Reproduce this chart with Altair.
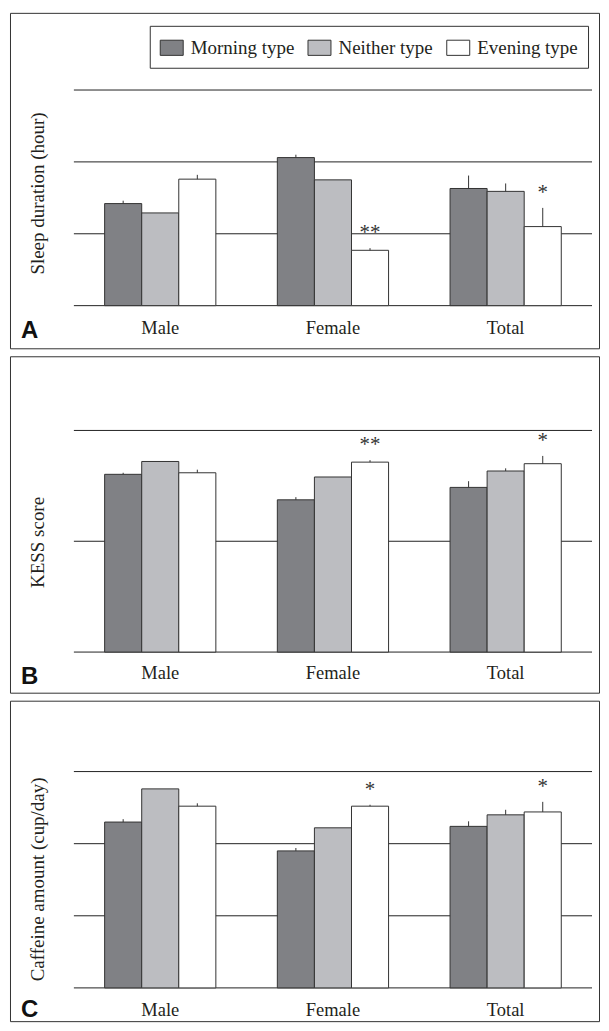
import altair as alt
import pandas as pd

categories = ["Male", "Female", "Total"]
types = ["Morning type", "Neither type", "Evening type"]
type_colors = ["#808185", "#bcbdc1", "#ffffff"]

# Panel A: sleep duration (hour)
sleep_morning = [6.42, 7.06, 6.63]
sleep_neither = [6.29, 6.75, 6.59]
sleep_evening = [6.76, 5.77, 6.10]
sleep_morning_err = [0.04, 0.04, 0.18]
sleep_neither_err = [0.0, 0.0, 0.11]
sleep_evening_err = [0.06, 0.03, 0.26]
sleep_evening_sig = ["", "**", "*"]
sleep_grid = [5, 6, 7, 8]

# Panel B: KESS score
kess_morning = [8.02, 6.87, 7.43]
kess_neither = [8.60, 7.90, 8.17]
kess_evening = [8.09, 8.57, 8.50]
kess_morning_err = [0.07, 0.12, 0.28]
kess_neither_err = [0.0, 0.0, 0.12]
kess_evening_err = [0.14, 0.09, 0.35]
kess_evening_sig = ["", "**", "*"]
kess_grid = [0, 5, 10]

# Panel C: caffeine amount (cup/day)
caf_morning = [1.15, 0.95, 1.12]
caf_neither = [1.38, 1.11, 1.20]
caf_evening = [1.26, 1.26, 1.22]
caf_morning_err = [0.02, 0.02, 0.035]
caf_neither_err = [0.0, 0.0, 0.035]
caf_evening_err = [0.02, 0.01, 0.07]
caf_evening_sig = ["", "*", "*"]
caf_grid = [0, 0.5, 1.0, 1.5]

SERIF = "Liberation Serif"
SANS = "Liberation Sans"
INK = "#231f20"
PANEL_W = 590
PLOT_L = 64
PLOT_R = 583


def make_panel(letter, ytitle, means, errs, evening_sig, grid, base, top,
               H, base_px, top_px, title_y, letter_y, label_y, legend_y):
    rows = []
    for ti, t in enumerate(types):
        for ci, c in enumerate(categories):
            v = means[ti][ci]
            e = errs[ti][ci]
            s = evening_sig[ci] if t == "Evening type" else ""
            rows.append(dict(group=c, type=t, value=v, upper=v + e, sig=s))
    df = pd.DataFrame(rows)

    yscale = alt.Scale(domain=[base, top], range=[base_px, top_px], nice=False, zero=False)
    xscale = alt.Scale(domain=categories, range=[PLOT_L, PLOT_R],
                       paddingInner=0.356, paddingOuter=0.178)
    offscale = alt.Scale(domain=types, paddingInner=0, paddingOuter=0)

    legend = alt.Legend(title=None, orient="none", legendX=140, legendY=legend_y,
                        direction="horizontal", strokeColor="#333", fillColor="white",
                        padding=10, symbolType="M-1,-0.66H1V0.66H-1Z", symbolSize=529,
                        symbolStrokeColor="#333", symbolStrokeWidth=1, symbolOpacity=1,
                        labelFont=SERIF, labelFontSize=19, labelOffset=7,
                        columnPadding=11, labelColor=INK)

    gridlines = alt.Chart(pd.DataFrame({"g": grid})).mark_rule(
        color="#222", strokeWidth=1
    ).encode(
        y=alt.Y("g:Q", scale=yscale, axis=None),
        x=alt.value(PLOT_L), x2=alt.value(PLOT_R),
    )

    bars = alt.Chart(df).mark_bar(stroke="#333", strokeWidth=1).encode(
        x=alt.X("group:N", scale=xscale, axis=None, sort=categories),
        xOffset=alt.XOffset("type:N", scale=offscale, sort=types),
        y=alt.Y("value:Q", scale=yscale, axis=None),
        y2=alt.datum(base),
        color=alt.Color("type:N", scale=alt.Scale(domain=types, range=type_colors),
                        legend=legend, sort=types),
    )

    errbars = alt.Chart(df).mark_rule(color="#333", strokeWidth=1).encode(
        x=alt.X("group:N", scale=xscale, axis=None, sort=categories),
        xOffset=alt.XOffset("type:N", scale=offscale, sort=types),
        y=alt.Y("value:Q", scale=yscale, axis=None),
        y2="upper:Q",
    )

    stars = alt.Chart(df).transform_filter("datum.sig != ''").mark_text(
        font=SERIF, fontSize=21, baseline="alphabetic", dy=-9, color="#333"
    ).encode(
        x=alt.X("group:N", scale=xscale, axis=None, sort=categories),
        xOffset=alt.XOffset("type:N", scale=offscale, sort=types),
        y=alt.Y("upper:Q", scale=yscale, axis=None),
        text="sig:N",
    )

    xlabels = alt.Chart(pd.DataFrame({"group": categories})).mark_text(
        font=SERIF, fontSize=18.5, baseline="alphabetic", align="center", color=INK
    ).encode(
        x=alt.X("group:N", scale=xscale, axis=None, sort=categories),
        y=alt.value(label_y),
        text="group:N",
    )

    ytitle_chart = alt.Chart(pd.DataFrame({"t": [ytitle]})).mark_text(
        font=SERIF, fontSize=19, angle=270, align="center", baseline="middle", color=INK
    ).encode(x=alt.value(28), y=alt.value(title_y), text="t:N")

    letter_chart = alt.Chart(pd.DataFrame({"letter": [letter]})).mark_text(
        font=SANS, fontWeight="bold", fontSize=24, align="left",
        baseline="alphabetic", color="#111"
    ).encode(x=alt.value(11), y=alt.value(letter_y), text="letter:N")

    return alt.layer(gridlines, bars, errbars, stars, xlabels, ytitle_chart,
                     letter_chart).properties(width=PANEL_W, height=H)


panel_a = make_panel(
    "A", "Sleep duration (hour)",
    [sleep_morning, sleep_neither, sleep_evening],
    [sleep_morning_err, sleep_neither_err, sleep_evening_err],
    sleep_evening_sig, sleep_grid, 5, 8,
    H=336, base_px=293.3, top_px=77.3, title_y=181, letter_y=326, label_y=322,
    legend_y=13,
)
panel_b = make_panel(
    "B", "KESS score",
    [kess_morning, kess_neither, kess_evening],
    [kess_morning_err, kess_neither_err, kess_evening_err],
    kess_evening_sig, kess_grid, 0, 10,
    H=337, base_px=296.3, top_px=74.3, title_y=186.5, letter_y=328, label_y=323,
    legend_y=14.3,
)
panel_c = make_panel(
    "C", "Caffeine amount (cup/day)",
    [caf_morning, caf_neither, caf_evening],
    [caf_morning_err, caf_neither_err, caf_evening_err],
    caf_evening_sig, caf_grid, 0, 1.5,
    H=321, base_px=287.7, top_px=71, title_y=179, letter_y=317, label_y=316,
    legend_y=13.3,
)

chart = alt.vconcat(panel_a, panel_b, panel_c, spacing=8, bounds="flush").properties(
    padding={"left": 1, "top": 3, "right": 1, "bottom": 0}
).configure_view(stroke="#333", strokeWidth=1)

chart.save("out.html", embed_options={"renderer": "svg", "actions": False})
